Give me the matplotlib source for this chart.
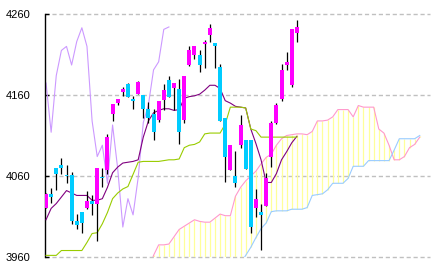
import matplotlib
matplotlib.use("Agg")
import matplotlib.pyplot as plt
import numpy as np

# ---- data ----
opens = [4021, 4038, 4070, 4074, 4061, 4061, 4004, 4016, 4020, 4029,
         4025, 4059, 4068, 4137, 4150, 4164, 4174, 4155, 4161, 4160,
         4143, 4137, 4129, 4154, 4178, 4169, 4167, 4129, 4197, 4210,
         4209, 4223, 4234, 4224, 4195, 4132, 4068, 4060, 4098, 4104,
         4104, 4020, 4016, 4023, 4083, 4125, 4155, 4197, 4172, 4237]
highs = [4039, 4045, 4070, 4082, 4073, 4065, 4013, 4016, 4042, 4036,
         4070, 4070, 4112, 4149, 4155, 4170, 4175, 4159, 4177, 4160,
         4151, 4143, 4152, 4174, 4183, 4175, 4180, 4184, 4220, 4220,
         4215, 4228, 4248, 4224, 4198, 4132, 4098, 4091, 4135, 4104,
         4104, 4044, 4026, 4064, 4128, 4150, 4198, 4213, 4241, 4252]
lows = [4020, 4027, 4043, 4063, 4051, 4001, 3994, 3990, 4019, 4012,
        3980, 4046, 4063, 4128, 4148, 4159, 4157, 4143, 4161, 4132,
        4126, 4104, 4127, 4141, 4157, 4141, 4100, 4126, 4196, 4204,
        4188, 4193, 4225, 4193, 4128, 4053, 4068, 4046, 4095, 4069,
        3990, 4010, 3969, 4023, 4071, 4124, 4153, 4191, 4170, 4225]
closes = [4038, 4034, 4063, 4070, 4060, 4004, 3999, 4002, 4029, 4025,
          4070, 4058, 4108, 4149, 4155, 4167, 4157, 4153, 4176, 4143,
          4132, 4114, 4152, 4166, 4157, 4175, 4114, 4184, 4215, 4220,
          4197, 4226, 4243, 4220, 4128, 4084, 4098, 4051, 4123, 4069,
          3997, 4032, 4012, 4058, 4126, 4148, 4191, 4201, 4241, 4244]

tenkan = [4006, 4020, 4026, 4034, 4042, 4039, 4036, 4036, 4036, 4030,
          4030, 4032, 4046, 4064, 4071, 4076, 4077, 4078, 4080, 4108,
          4128, 4138, 4141, 4143, 4143, 4141, 4142, 4156, 4158, 4159,
          4161, 4166, 4172, 4172, 4168, 4153, 4150, 4146, 4145, 4144,
          4118, 4100, 4080, 4052, 4052, 4063, 4080, 4090, 4101, 4109]
kijun = [3962, 3962, 3962, 3968, 3968, 3968, 3968, 3968, 3978, 3989,
         3990, 4001, 4015, 4032, 4039, 4044, 4047, 4062, 4077, 4078,
         4078, 4078, 4078, 4079, 4080, 4080, 4081, 4095, 4098, 4099,
         4102, 4112, 4113, 4113, 4113, 4124, 4145, 4145, 4145, 4144,
         4118, 4116, 4108, 4108, 4108, 4108, 4108, 4108, 4108, 4108]

span_start = 20  # index of first span value
span_a = [3940, 3962, 3975, 3975, 3976, 3985, 3994, 3998, 4002, 4006,
          4004, 4003, 4003, 4008, 4013, 4011, 4011, 4035, 4046, 4054,
          4060, 4066, 4075, 4083, 4087, 4098, 4106, 4110, 4111, 4112,
          4112, 4111, 4115, 4128, 4128, 4129, 4133, 4142, 4142, 4142,
          4133, 4147, 4145, 4145, 4145, 4118, 4113, 4098, 4080, 4080,
          4084, 4095, 4099, 4108]
span_b = [3940, 3940, 3940, 3940, 3940, 3940, 3940, 3940, 3940, 3940,
          3940, 3940, 3940, 3940, 3940, 3940, 3940, 3944, 3952, 3962,
          3972, 3984, 3995, 4002, 4016, 4017, 4017, 4017, 4019, 4019,
          4019, 4021, 4036, 4037, 4038, 4043, 4051, 4051, 4051, 4057,
          4072, 4072, 4072, 4079, 4079, 4079, 4079, 4079, 4092, 4106,
          4106, 4106, 4106, 4110]
chikou_shift = 25

yticks = [3960, 4060, 4160, 4260]

# ---- figure ----
fig = plt.figure(figsize=(4.35, 2.71), dpi=100)
ax = fig.add_axes([45 / 435, 1 - 257 / 271, (430 - 45) / 435, (257 - 14) / 271])
ax.set_xlim(-0.2, 75)
ax.set_ylim(3960, 4260)

px = 0.72
for yv in yticks:
    ax.axhline(yv, color="#C0C0C0", lw=1.0, linestyle=(0, (3, 2)), zorder=0, clip_on=False)

n = len(closes)
idx = np.arange(n)
lw = 0.8

# cloud hatch
sidx = np.arange(span_start, span_start + len(span_a))
sa = np.array(span_a, float)
sb = np.array(span_b, float)
ax.vlines(sidx, np.minimum(sa, sb), np.maximum(sa, sb), color="#FFFF99", lw=0.9, zorder=1)
ax.plot(sidx, sa, color="#FF99CC", lw=lw, zorder=2)
ax.plot(sidx, sb, color="#99CCFF", lw=lw, zorder=2)

# chikou
cidx = np.arange(-1, n - chikou_shift)
ax.plot(cidx, closes[chikou_shift - 1:], color="#CC99FF", lw=lw, zorder=2)

ax.plot(idx, tenkan, color="#800080", lw=lw, zorder=3)
ax.plot(idx, kijun, color="#99CC00", lw=lw, zorder=3)

# candles
o = np.array(opens, float)
c = np.array(closes, float)
ax.vlines(idx, lows, highs, color="black", lw=0.9, zorder=4)
up = c >= o
bottoms = np.minimum(o, c)
heights = np.maximum(np.abs(c - o), 1.3)
colors = np.where(up, "#FF00FF", "#00CCFF")
ax.bar(idx, heights, bottom=bottoms, width=0.78, color=colors, linewidth=0, zorder=5)

# axes styling
for s in ["top", "right", "bottom"]:
    ax.spines[s].set_visible(False)
ax.spines["left"].set_linewidth(1.0)
ax.spines["left"].set_color("black")
ax.set_xticks([])
ax.set_yticks(yticks)
ax.set_yticklabels([str(v) for v in yticks], fontsize=8, family=["Liberation Sans", "DejaVu Sans"])
ax.tick_params(axis="y", direction="in", length=3, width=1.0, pad=10.5, colors="black")

fig.savefig("out.png", dpi=100)
